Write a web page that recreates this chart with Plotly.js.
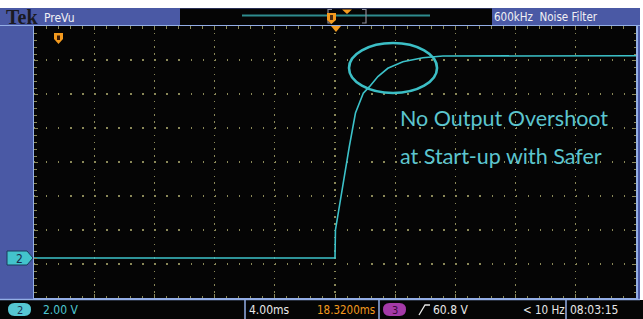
<!DOCTYPE html>
<html><head><meta charset="utf-8">
<script src="https://cdn.plot.ly/plotly-3.0.1.min.js"></script>
<style>html,body{margin:0;padding:0;background:#fff;}#chart{width:643px;height:319px;}</style>
</head><body><div id="chart"></div>
<script>
// ---- data (time in ms relative to trigger, channel 2 voltage in V) ----
const timeMs = [-20, 0, 0.03, 0.22, 0.55, 0.95, 1.36, 1.88, 2.29, 2.85, 3.51, 4.51, 5.84, 7.17, 20];
const voltsV = [0, 0, 1.65, 2.65, 4.59, 6.55, 8.53, 9.69, 10.08, 10.67, 11.16, 11.55, 11.78, 11.88, 11.9];
const headerLeft = "PreVu";
const headerRight = "600kHz  Noise Filter";
const chScale = "2.00 V";
const timeScale = "4.00ms";
const trigPos = "18.3200ms";
const trigLevel = "60.8 V";
const freq = "< 10 Hz";
const clock = "08:03:15";
const noteLines = ["No Output Overshoot", "at Start-up with Safer"];

// ---- pixel helpers for decoration ----
const L=34, R=636, T=26, B=298;
const X = p => (p-L)/(R-L);
const Y = p => (B-p)/(B-T);
const path = pts => 'M' + pts.map(p => X(p[0]) + ',' + Y(p[1])).join('L') + 'Z';
const lpath = pts => 'M' + pts.map(p => X(p[0]) + ',' + Y(p[1])).join('L');
const rect = (x0,y0,x1,y1,fill,extra) => Object.assign({type:'rect',xref:'paper',yref:'paper',x0:X(x0),x1:X(x1),y0:Y(y1),y1:Y(y0),fillcolor:fill,line:{width:0},layer:'below'},extra||{});
const PAPER = {xref:'paper',yref:'paper'};
const pill = (x0,x1,y0,y1,fill) => {
  const r=(y1-y0)/2, ym=(y0+y1)/2;
  return {type:'path',...PAPER,fillcolor:fill,line:{width:0},
    path:'M'+X(x0+r)+','+Y(y0)+'L'+X(x1-r)+','+Y(y0)+'Q'+X(x1)+','+Y(y0)+' '+X(x1)+','+Y(ym)+'Q'+X(x1)+','+Y(y1)+' '+X(x1-r)+','+Y(y1)+'L'+X(x0+r)+','+Y(y1)+'Q'+X(x0)+','+Y(y1)+' '+X(x0)+','+Y(ym)+'Q'+X(x0)+','+Y(y0)+' '+X(x0+r)+','+Y(y0)+'Z'};
};

const BLUE='#4a59a5', LBLUE='#93aee6', CYAN='#43c3cc', ORANGE='#f39a1e', OLIVE='#8a8858';
const NARROW = '"Liberation Sans Narrow","DejaVu Sans Condensed",Arial,sans-serif';

const trace = {
  x: timeMs, y: voltsV, type:'scatter', mode:'lines',
  line:{color:'#3cc2c9', width:1.6, shape:'linear'},
  hoverinfo:'skip'
};

const shapes = [
  rect(0,0,643,8,'#ffffff'),
  rect(640,0,643,300,'#ffffff'),
  rect(0,300,643,319,'#050505'),
  rect(180,8.5,492,25,'#050505'),
  {type:'line',...PAPER,x0:X(0),x1:X(640),y0:Y(299.5),y1:Y(299.5),line:{color:LBLUE,width:1.5}},
  {type:'line',...PAPER,x0:X(0),x1:X(640),y0:Y(25.5),y1:Y(25.5),line:{color:LBLUE,width:1}},
  {type:'line',...PAPER,x0:X(245),x1:X(245),y0:Y(300),y1:Y(319),line:{color:LBLUE,width:1.5}},
  {type:'line',...PAPER,x0:X(379),x1:X(379),y0:Y(300),y1:Y(319),line:{color:LBLUE,width:1.5}},
  {type:'line',...PAPER,x0:X(566),x1:X(566),y0:Y(300),y1:Y(319),line:{color:LBLUE,width:1.5}},
  {type:'line',...PAPER,x0:X(242),x1:X(430),y0:Y(15.5),y1:Y(15.5),line:{color:'#2e8c8e',width:2}},
  {type:'path',...PAPER,path:lpath([[332,9.5],[328,9.5],[328,23],[332,23]]),line:{color:'#8a8a96',width:1.2}},
  {type:'path',...PAPER,path:lpath([[362,9.5],[366,9.5],[366,23],[362,23]]),line:{color:'#8a8a96',width:1.2}},
  {type:'path',...PAPER,path:path([[342,9.5],[352,9.5],[347,14]]),fillcolor:ORANGE,line:{width:0}},
  {type:'path',...PAPER,path:path([[327,13],[336,13],[336,20],[331.5,24],[327,20]]),fillcolor:ORANGE,line:{width:0}},
  {type:'rect',...PAPER,x0:X(330),x1:X(333),y0:Y(20),y1:Y(15),fillcolor:'#4a2a10',line:{width:0}},
  {type:'path',...PAPER,path:path([[331,26],[341,26],[336,32]]),fillcolor:ORANGE,line:{width:0}},
  {type:'path',...PAPER,path:path([[54,33],[63,33],[63,39],[58.5,44],[54,39]]),fillcolor:ORANGE,line:{width:0}},
  {type:'rect',...PAPER,x0:X(57),x1:X(60),y0:Y(40),y1:Y(35.5),fillcolor:'#3a1a05',line:{width:0}},
  {type:'path',...PAPER,path:path([[7,251],[27,251],[33,258],[27,265],[7,265]]),fillcolor:CYAN,line:{color:'#1a3a5a',width:1}},
  pill(8,31,303,316,'#56c6d2'),
  pill(383,406,303,316,'#a53aa8'),
  {type:'path',...PAPER,path:lpath([[419,315],[425,305],[430,305]]),line:{color:'#e6e6e6',width:1.3}},
  {type:'circle',xref:'x',yref:'y',x0:0.93,x1:6.78,y0:9.71,y1:12.65,line:{color:'#3cbfc6',width:2.6}}
];

const ann = (x,y,text,color,size,font,extra) => Object.assign({xref:'paper',yref:'paper',x:X(x),y:Y(y),text:text,showarrow:false,xanchor:'left',yanchor:'middle',font:{family:font||NARROW,size:size||12,color:color}},extra||{});

const NOTE_FONT = {family:'Lato, "Open Sans", sans-serif', size:21.5, color:'#5cc6cf'};
const annotations = [
  ann(4,17,'<b>Tek</b>','#1a1a22',20,'"Liberation Serif","DejaVu Serif",serif'),
  ann(42,17.5,headerLeft,'#f0f0f4',12),
  ann(492,17,headerRight,'#f0f0f4',11.5),
  ann(19.5,258.5,'2','#1a2a4a',12,NARROW,{xanchor:'center'}),
  ann(19.5,310,'2','#1a3050',11,NARROW,{xanchor:'center'}),
  ann(41,310,chScale,'#4fc5d0',12),
  ann(247,310,timeScale,'#e8e8e8',12),
  ann(315,310,trigPos,ORANGE,11.5),
  ann(394.5,310,'3','#3a0a3a',11,NARROW,{xanchor:'center'}),
  ann(431,310,trigLevel,'#e8e8e8',12),
  ann(521,310,freq,'#e8e8e8',11.5),
  ann(568,310,clock,'#e8e8e8',12),
  {x:4.19,y:8.24,xref:'x',yref:'y',text:noteLines[0],showarrow:false,xanchor:'left',yanchor:'middle',font:NOTE_FONT},
  {x:4.19,y:6.0,xref:'x',yref:'y',text:noteLines[1],showarrow:false,xanchor:'left',yanchor:'middle',font:NOTE_FONT}
];

const axBase = {showticklabels:false, zeroline:false, showline:true, linecolor:LBLUE, linewidth:1.5, mirror:'allticks', ticks:'inside', ticklen:4, tickcolor:OLIVE, tickwidth:1, gridcolor:OLIVE, gridwidth:1.4, fixedrange:true};

const layout = {
  width:643, height:319,
  margin:{l:L, r:643-R, t:T, b:319-B, pad:0},
  paper_bgcolor:BLUE, plot_bgcolor:'#050505',
  showlegend:false,
  xaxis:Object.assign({}, axBase, {range:[-20,20], dtick:4, tick0:0, griddash:'1.4px,5.4px',
    minor:{dtick:0.8, ticks:'inside', ticklen:2.5, tickcolor:OLIVE, showgrid:false}}),
  yaxis:Object.assign({}, axBase, {range:[-2.353,13.647], dtick:2, tick0:-2.353, griddash:'1.4px,10.64px',
    minor:{dtick:0.4, ticks:'inside', ticklen:2.5, tickcolor:OLIVE, showgrid:false}}),
  shapes:shapes,
  annotations:annotations
};

Plotly.newPlot('chart',[trace],layout,{staticPlot:true,displayModeBar:false});
</script></body></html>
